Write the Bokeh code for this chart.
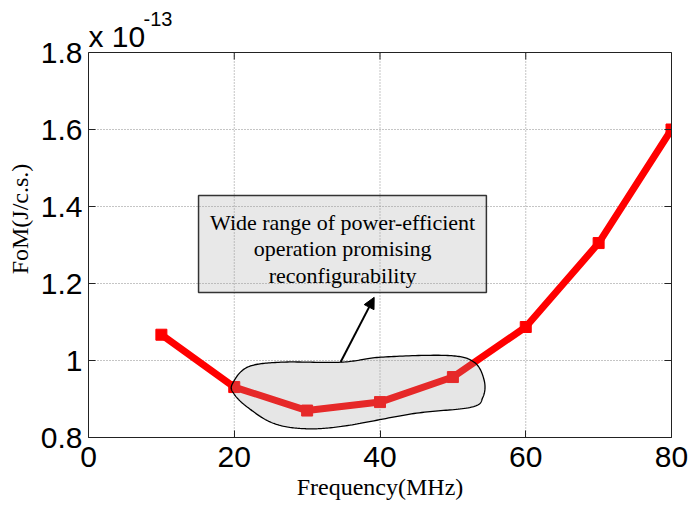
import numpy as np
from bokeh.plotting import figure
from bokeh.models import (LinearAxis, FixedTicker, CustomJSTickFormatter,
                          Arrow, NormalHead, Range1d, Span)
from bokeh.core.properties import value
from bokeh.embed import file_html
from bokeh.resources import INLINE

# FoM versus operating frequency (values in units of 1e-13 J/c.s.)
frequency_mhz = [10, 20, 30, 40, 50, 60, 70, 80]
fom_e13 = [1.067, 0.931, 0.870, 0.892, 0.957, 1.087, 1.305, 1.600]

x_ticks = [0, 20, 40, 60, 80]
y_ticks = [0.8, 1.0, 1.2, 1.4, 1.6, 1.8]

note_lines = ["Wide range of power-efficient",
              "operation promising",
              "reconfigurability"]

SANS = "Liberation Sans"
SERIF = "Liberation Serif"
W, H = 691, 505
X0, X1, Y0, Y1 = 0, 80, 0.8, 1.8
PX_PER_Y = 385.0          # pixels per y unit inside the axes box
PX_PER_X = 583.0 / (X1 - X0)
HEAD_PX = 52              # space above the axes box for the exponent
y_top = Y1 + HEAD_PX / PX_PER_Y

# the frame reaches the top of the canvas; the axes box itself is bounded to [Y0, Y1]
p = figure(width=W, height=H, x_range=Range1d(X0, X1), y_range=Range1d(Y0, y_top),
           output_backend="svg", toolbar_location=None, title=None,
           min_border_left=88, min_border_right=20,
           min_border_top=0, min_border_bottom=68)
p.background_fill_color = "white"
p.border_fill_color = "white"
p.outline_line_color = None
p.grid.visible = False

fmt = CustomJSTickFormatter(code="return Number(tick.toFixed(2)).toString();")

for ax in (p.xaxis[0], p.yaxis[0]):
    ax.major_tick_in = 7
    ax.major_tick_out = 0
    ax.minor_tick_line_color = None
    ax.axis_line_color = "#222222"
    ax.major_tick_line_color = "#222222"
    ax.major_label_text_font = SANS
    ax.major_label_text_font_size = "30px"
    ax.major_label_text_color = "black"
    ax.axis_label_text_font = SERIF
    ax.axis_label_text_font_size = "24px"
    ax.axis_label_text_font_style = "normal"
    ax.axis_label_text_color = "black"
    ax.formatter = fmt

p.xaxis.ticker = FixedTicker(ticks=x_ticks)
p.yaxis.ticker = FixedTicker(ticks=y_ticks)
p.yaxis.bounds = (Y0, Y1)
p.xaxis.axis_label = "Frequency(MHz)"
p.yaxis.axis_label = "FoM(J/c.s.)"
p.xaxis.major_label_standoff = 9
p.yaxis.major_label_standoff = 6
p.xaxis.axis_label_standoff = 4
p.yaxis.axis_label_standoff = 5

# right edge of the box with mirrored ticks
rax = LinearAxis(ticker=FixedTicker(ticks=y_ticks), bounds=(Y0, Y1))
rax.major_tick_in = 7
rax.major_tick_out = 0
rax.minor_tick_line_color = None
rax.axis_line_color = "#222222"
rax.major_tick_line_color = "#222222"
rax.major_label_text_font_size = "0px"
rax.major_label_standoff = 0
p.add_layout(rax, "right")

# dotted grid inside the box (interior tick positions only)
inner_x = x_ticks[1:-1]
inner_y = y_ticks[1:-1]
p.segment(x0=inner_x, y0=[Y0] * len(inner_x), x1=inner_x, y1=[Y1] * len(inner_x),
          line_color="#8a8a8a", line_dash="1 2", line_width=1)
p.segment(x0=[X0] * len(inner_y), y0=inner_y, x1=[X1] * len(inner_y), y1=inner_y,
          line_color="#8a8a8a", line_dash="1 2", line_width=1)

# top edge of the box with mirrored ticks (7 px long, inward)
p.add_layout(Span(location=Y1, dimension="width", line_color="#222222", line_width=1))
tick_len = 7 / PX_PER_Y
p.segment(x0=x_ticks, y0=[Y1] * len(x_ticks), x1=x_ticks,
          y1=[Y1 - tick_len] * len(x_ticks), line_color="#222222", line_width=1)

# data series
p.line(frequency_mhz, fom_e13, line_color="#ff0000", line_width=7)
p.scatter(frequency_mhz, fom_e13, marker="square", size=11,
          fill_color="#ff0000", line_color="#ff0000")

# highlighted low-FoM region drawn as a smooth closed outline
ctrl = np.array([
    (19.75, 0.9395), (21.81, 0.9826), (26.39, 0.9956), (34.64, 0.9956),
    (40.14, 1.0086), (49.31, 1.0130), (52.92, 0.9956), (54.30, 0.9480),
    (54.12, 0.9047), (52.51, 0.8787), (44.67, 0.8623), (35.56, 0.8312),
    (30.06, 0.8226), (25.43, 0.8364), (21.81, 0.8787), (19.93, 0.9143),
])


def closed_spline(pts, n=24):
    out = []
    m = len(pts)
    for i in range(m):
        p0, p1, p2, p3 = pts[i - 1], pts[i], pts[(i + 1) % m], pts[(i + 2) % m]
        for t in np.linspace(0, 1, n, endpoint=False):
            t2, t3 = t * t, t * t * t
            out.append(0.5 * ((2 * p1) + (-p0 + p2) * t
                              + (2 * p0 - 5 * p1 + 4 * p2 - p3) * t2
                              + (-p0 + 3 * p1 - 3 * p2 + p3) * t3))
    return np.array(out)


blob = closed_spline(ctrl)
p.patch(blob[:, 0], blob[:, 1], fill_color="#a0a0a0", fill_alpha=0.26,
        line_color="black", line_width=1.3)

# callout box with its note
p.quad(left=[15.1], right=[54.6], bottom=[1.1766], top=[1.4286],
       fill_color="#a0a0a0", fill_alpha=0.24, line_color="#333333", line_width=1.5)
p.text(x=[34.87] * 3, y=[1.359, 1.290, 1.221], text=note_lines,
       text_font=value(SERIF), text_font_size="22px", text_color="black",
       text_align="center", text_baseline="middle")

p.add_layout(Arrow(end=NormalHead(size=11, fill_color="black", line_color="black"),
                   x_start=34.6, y_start=0.996, x_end=39.2, y_end=1.164,
                   line_color="black", line_width=2))

# axis exponent above the top-left corner of the box
p.text(x=[X0], y=[Y1 + 16 / PX_PER_Y], text=["x 10"], text_font=value(SANS),
       text_font_size="30px", text_color="black",
       text_align="left", text_baseline="alphabetic")
p.text(x=[X0 + 55 / PX_PER_X], y=[Y1 + 34 / PX_PER_Y], text=["-13"],
       text_font=value(SANS), text_font_size="20px", text_color="black",
       text_align="left", text_baseline="alphabetic")

open("out.html", "w").write(file_html(p, INLINE))
